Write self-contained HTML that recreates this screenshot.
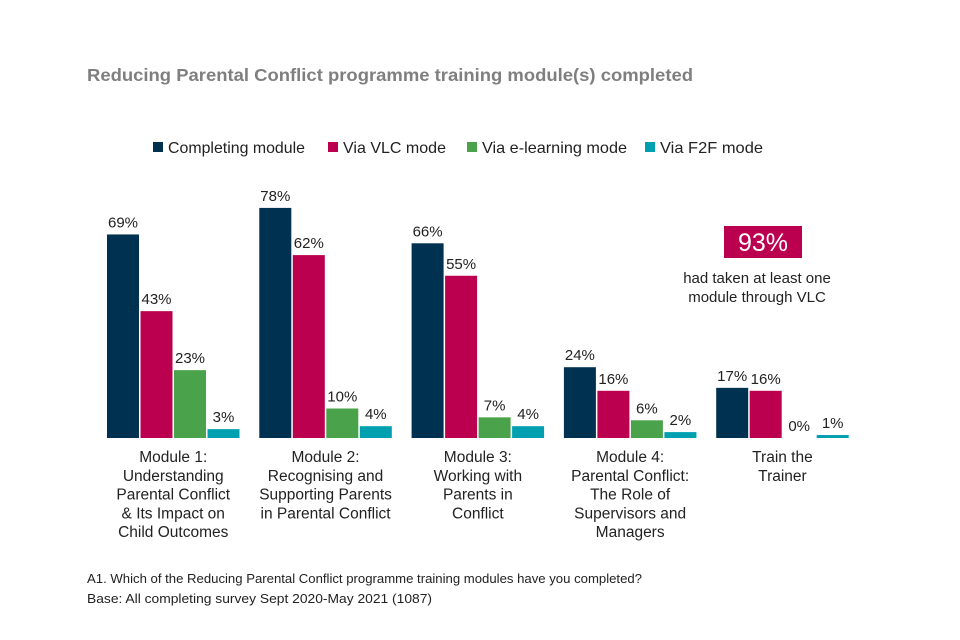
<!DOCTYPE html>
<html><head><meta charset="utf-8"><style>
body{margin:0;background:#fff;}
svg{display:block;font-family:"Liberation Sans",Arial,sans-serif;}
</style></head><body>
<svg id="chart" width="960" height="640" viewBox="0 0 960 640">
<text x="87" y="81" font-size="17.5" font-weight="bold" fill="#7f7f7f" textLength="606" lengthAdjust="spacingAndGlyphs">Reducing Parental Conflict programme training module(s) completed</text>
<g id="legend"></g>
<g id="bars"></g>
<g id="cats"></g>
<rect x="724" y="226" width="78" height="32" fill="#bb0050"/>
<text x="763" y="251" font-size="25" fill="#fff" text-anchor="middle">93%</text>
<text x="757" y="283" font-size="15" fill="#222" text-anchor="middle">had taken at least one</text>
<text x="757" y="302" font-size="15" fill="#222" text-anchor="middle">module through VLC</text>
<text x="87" y="583" font-size="13" fill="#222" textLength="555" lengthAdjust="spacingAndGlyphs">A1. Which of the Reducing Parental Conflict programme training modules have you completed?</text>
<text x="87" y="603" font-size="13" fill="#222" textLength="345" lengthAdjust="spacingAndGlyphs">Base: All completing survey Sept 2020-May 2021 (1087)</text>
</svg>
<script>
const categories=[["Module 1:","Understanding","Parental Conflict","& Its Impact on","Child Outcomes"],["Module 2:","Recognising and","Supporting Parents","in Parental Conflict"],["Module 3:","Working with","Parents in","Conflict"],["Module 4:","Parental Conflict:","The Role of","Supervisors and","Managers"],["Train the","Trainer"]];
const seriesNames=["Completing module","Via VLC mode","Via e-learning mode","Via F2F mode"];
const completing=[69,78,66,24,17];
const vlc=[43,62,55,16,16];
const elearning=[23,10,7,6,0];
const f2f=[3,4,4,2,1];
const colors=["#003150","#bb0050","#4aa24a","#00a0b0"];
const series=[completing,vlc,elearning,f2f];
const NS="http://www.w3.org/2000/svg";
const base=438, scale=2.95, x0=107, groupW=152.3, barW=32, barStep=33.5;
const y=v=>base-v*scale;
const xb=(g,s)=>x0+g*groupW+s*barStep;
function mk(tag,attrs,parent){const e=document.createElementNS(NS,tag);for(const k in attrs)e.setAttribute(k,attrs[k]);parent.appendChild(e);return e;}
const bars=document.getElementById('bars');
series.forEach((arr,s)=>{arr.forEach((v,g)=>{
 const r=mk('rect',{x:xb(g,s),y:y(v),width:barW,height:Math.max(base-y(v),0),fill:colors[s]},bars);
 
 
 const t=mk('text',{x:xb(g,s)+barW/2,y:y(v)-7,'font-size':15,fill:'#222','text-anchor':'middle'},bars);
 t.textContent=v+'%';
 
 
});});
const cats=document.getElementById('cats');
categories.forEach((lines,g)=>{
 const cx=xb(g,0)+(3*barStep+barW)/2;
 lines.forEach((ln,i)=>{
  const t=mk('text',{x:cx,y:462+i*18.8,'font-size':15.5,fill:'#222','text-anchor':'middle'},cats);
  t.textContent=ln;
  
  
 });
});
const legend=document.getElementById('legend');
const lx=[153,328,467,645];
const lw=[137,103,145,103];
seriesNames.forEach((n,i)=>{
 const r=mk('rect',{x:lx[i],y:142,width:10,height:10,fill:colors[i]},legend);
 
 
 const t=mk('text',{x:lx[i]+15,y:153,'font-size':16,fill:'#222',textLength:lw[i],lengthAdjust:'spacingAndGlyphs'},legend);
 t.textContent=n;
 
 
});
</script>
</body></html>
